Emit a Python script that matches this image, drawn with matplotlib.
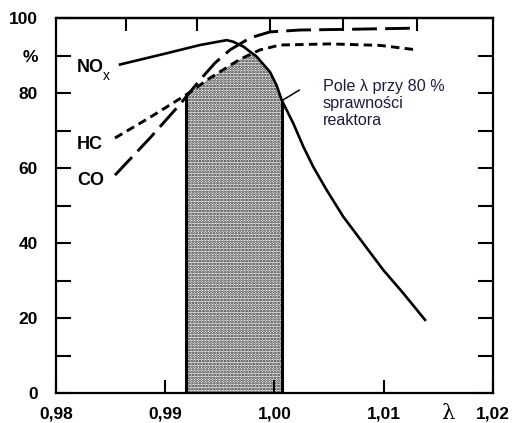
"""Catalyst conversion efficiency of NOx, HC and CO versus excess air ratio lambda."""
import matplotlib

matplotlib.use("Agg")
import matplotlib.pyplot as plt  # noqa: E402
import numpy as np  # noqa: E402

# values
lam_nox = [0.98586, 0.99013, 0.99318, 0.99562, 0.99620, 0.99714, 0.99837,
           0.99959, 1.00020, 1.00066, 1.00172, 1.00264, 1.00355, 1.00478,
           1.00630, 1.00813, 1.00996, 1.01179, 1.01378]
eff_nox = [87.6, 90.6, 92.8, 94.1, 93.7, 92.4, 89.7,
           85.6, 82.0, 78.1, 71.9, 65.7, 60.3, 54.1,
           47.0, 39.9, 32.8, 26.6, 19.5]

lam_hc = [0.98540, 0.98860, 0.99190, 0.99410, 0.99684, 0.99867,
          1.00050, 1.00508, 1.00966, 1.01304]
eff_hc = [68.0, 73.5, 79.5, 84.0, 89.0, 91.5, 92.8, 93.1, 92.7, 91.5]

lam_co = [0.98540, 0.98860, 0.99135, 0.99318, 0.99455, 0.99593, 0.99776,
          0.99959, 1.00233, 1.00691, 1.01304]
eff_co = [58.1, 68.0, 77.0, 83.5, 88.0, 91.5, 94.7, 96.3, 96.8, 97.0, 97.3]

# lambda window where every component is converted at about 80 %
window_lo = 0.9919
window_hi = 1.0007

x_ticks = [0.98, 0.99, 1.00, 1.01, 1.02]
x_labels = ["0,98", "0,99", "1,00", "1,01", "1,02"]
y_ticks = list(range(0, 101, 10))
y_labels = ["0", "", "20", "", "40", "", "60", "", "80", "%", "100"]
top_ticks = [0.98641, 0.99291, 0.99959, 1.00627, 1.01304]

plt.rcParams["font.family"] = ["Liberation Sans", "DejaVu Sans"]
plt.rcParams["hatch.linewidth"] = 1.3

fig = plt.figure(figsize=(5.22, 4.23), dpi=100)
ax = fig.add_axes([0.1073, 0.0709, 0.8371, 0.8865])

# shaded window bounded above by the lowest curve
x_fill = np.linspace(window_lo, window_hi, 300)
top = np.minimum(np.interp(x_fill, lam_hc, eff_hc), np.interp(x_fill, lam_nox, eff_nox))
ax.fill_between(x_fill, 0, top, facecolor="white", edgecolor="#222222",
                hatch="......", linewidth=0, zorder=1)
ax.vlines([window_lo, window_hi], 0, [top[0], top[-1]], color="black", linewidth=2.2, zorder=2)

ax.plot(lam_nox, eff_nox, color="black", linewidth=1.9, zorder=3)
ax.plot(lam_hc, eff_hc, color="black", linewidth=2.1, dashes=(2.9, 1.8), zorder=3)
ax.plot(lam_co, eff_co, color="black", linewidth=2.1, dashes=(8.5, 2.8), zorder=3)

ax.set_xlim(0.98, 1.02)
ax.set_ylim(0, 100)
ax.set_xticks(x_ticks)
ax.set_xticklabels(x_labels, fontsize=12.5, fontweight="bold")
ax.set_yticks(y_ticks)
ax.set_yticklabels(y_labels, fontsize=12.5, fontweight="bold")
ax.tick_params(axis="y", direction="in", length=11, width=1.5, right=True, pad=13)
ax.tick_params(axis="x", direction="in", length=9.5, width=1.5, pad=10)

top_axis = ax.secondary_xaxis("top")
top_axis.set_xticks(top_ticks)
top_axis.set_xticklabels([])
top_axis.tick_params(direction="in", length=9.5, width=1.5)

for spine in list(ax.spines.values()) + list(top_axis.spines.values()):
    spine.set_linewidth(1.6)

ax.text(0.98192, 86.7, "NO", fontsize=13, fontweight="bold", ha="left", va="center")
ax.text(0.98430, 84.6, "x", fontsize=10, ha="left", va="center")
ax.text(0.98192, 66.4, "HC", fontsize=13, fontweight="bold", ha="left", va="center")
ax.text(0.98192, 56.8, "CO", fontsize=13, fontweight="bold", ha="left", va="center")

ax.annotate("", xy=(window_hi, 78), xytext=(1.00228, 80.8),
            arrowprops=dict(arrowstyle="-", color="black", linewidth=1.1,
                            shrinkA=0, shrinkB=0))
ax.text(1.00443, 77.2, "Pole λ przy 80 %\nsprawności\nreaktora", fontsize=11.6,
        color="#1c1c40", ha="left", va="center", linespacing=1.17)

ax.text(1.0159, -2.8, "λ", fontsize=15, family=["DejaVu Serif"], ha="center", va="top",
        clip_on=False)

fig.savefig("out.png", dpi=100)
plt.close(fig)
